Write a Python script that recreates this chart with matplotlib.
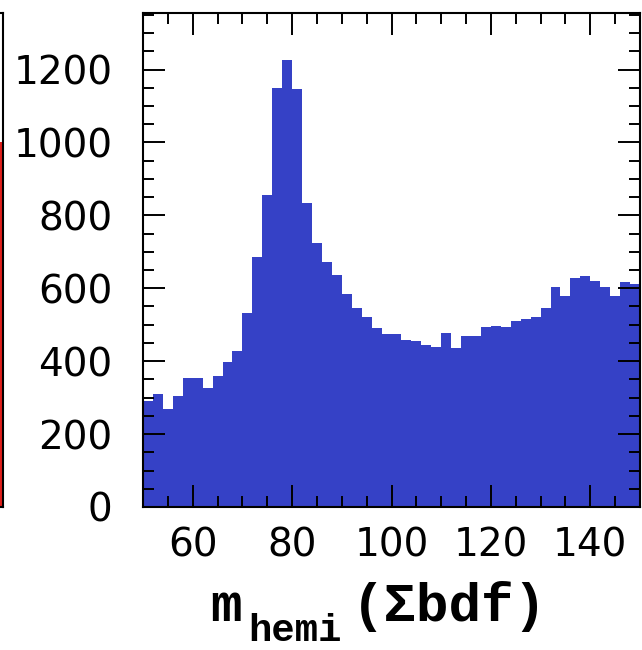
import numpy as np
import matplotlib
matplotlib.use("Agg")
import matplotlib.pyplot as plt
from matplotlib.ticker import MultipleLocator

# hemisphere mass histogram, 2 GeV bins from 50 to 150
bin_lo = 50
bin_w = 2
counts = [292, 310, 269, 305, 353, 355, 327, 358, 397, 429,
          531, 687, 857, 1150, 1226, 1146, 833, 725, 673, 636,
          583, 547, 522, 492, 474, 474, 458, 454, 444, 440,
          478, 435, 469, 469, 495, 497, 494, 510, 517, 521,
          547, 604, 579, 629, 634, 620, 603, 579, 618, 612]
# last visible bin of the neighbouring (red) panel
neighbour_counts = [1000]

xticks_major = 20
xticks_minor = 5
yticks_major = 200
yticks_minor = 50
y_top = 1355

blue = "#3541c6"
red = "#e0201c"

W, H = 642, 650
fig = plt.figure(figsize=(W / 100, H / 100), dpi=100)

ax_l, ax_r = 143, 640
ax_t, ax_b = 13, 507
ax = fig.add_axes([ax_l / W, (H - ax_b) / H, (ax_r - ax_l) / W, (ax_b - ax_t) / H])

edges = bin_lo + bin_w * np.arange(len(counts))
ax.bar(edges, counts, width=bin_w, align="edge", color=blue, linewidth=0)
ax.set_xlim(bin_lo, bin_lo + bin_w * len(counts))
ax.set_ylim(0, y_top)

ax.xaxis.set_major_locator(MultipleLocator(xticks_major))
ax.xaxis.set_minor_locator(MultipleLocator(xticks_minor))
ax.yaxis.set_major_locator(MultipleLocator(yticks_major))
ax.yaxis.set_minor_locator(MultipleLocator(yticks_minor))
ax.tick_params(which="both", direction="in", top=True, right=True,
               width=1.4, color="black")
ax.tick_params(which="major", length=15.5)
ax.tick_params(which="minor", length=8)
ax.tick_params(axis="x", which="major", labelsize=28, pad=14)
ax.tick_params(axis="y", which="major", labelsize=28, pad=22)
for s in ax.spines.values():
    s.set_linewidth(1.5)

# sliver of the neighbouring panel at the left edge
axn = fig.add_axes([-0.3, (H - ax_b) / H, 0.3 + 3 / W, (ax_b - ax_t) / H])
axn.bar([0.9], neighbour_counts, width=0.1, align="edge", color=red, linewidth=0)
axn.set_xlim(0, 1)
axn.set_ylim(0, y_top)
axn.set_xticks([])
axn.set_yticks([])
for s in axn.spines.values():
    s.set_linewidth(1.5)

# axis title in typewriter bold
mono = ["Liberation Mono", "DejaVu Sans Mono"]
fig.text(210 / W, (H - 621) / H, "m", family=mono, weight="bold",
         fontsize=38, ha="left", va="baseline")
fig.text(248 / W, (H - 641) / H, "hemi", family=mono, weight="bold",
         fontsize=28, ha="left", va="baseline")
fig.text(352 / W, (H - 621) / H, "(\u03a3bdf)", family=mono, weight="bold",
         fontsize=39, ha="left", va="baseline")

fig.savefig("out.png", dpi=100)
